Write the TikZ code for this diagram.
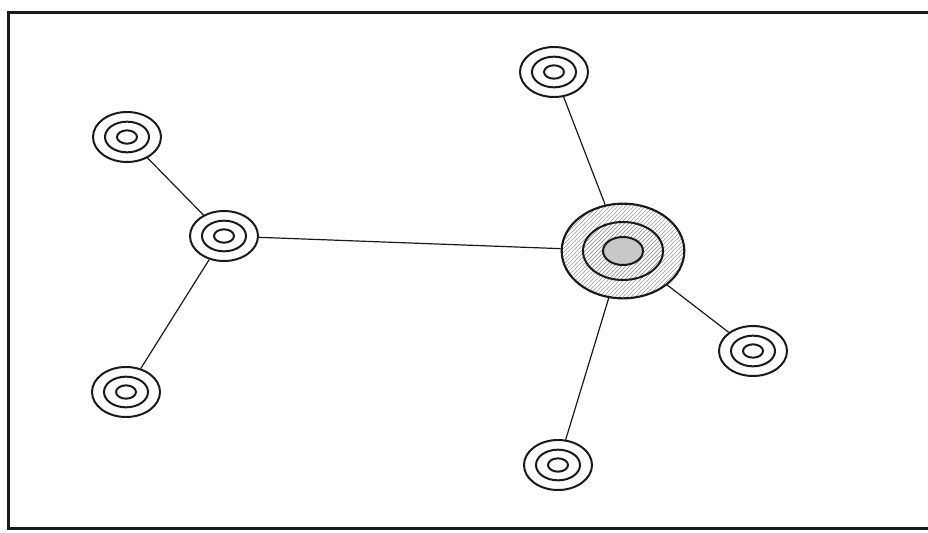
\documentclass[tikz,border=0pt]{standalone}
\usepackage{tikz}
\usetikzlibrary{shapes.geometric,patterns}
\definecolor{inkline}{HTML}{1A1A1A}
\definecolor{hatchgrey}{HTML}{999999}
\definecolor{coregrey}{HTML}{C8C8C8}

\tikzset{
  ringnode/.style={ellipse,draw=inkline,line width=1.5pt,fill=white,
    minimum width=51pt,minimum height=37.5pt,inner sep=0pt},
  hubnode/.style={ellipse,draw=inkline,line width=1.6pt,inner sep=0pt,
    minimum width=92pt,minimum height=71pt,
    pattern=north east lines,pattern color=hatchgrey},
  ringline/.style={inkline,line width=1.5pt},
  link/.style={inkline,line width=0.9pt}
}

\begin{document}
\begin{tikzpicture}[x=0.75pt,y=-0.75pt]
    \useasboundingbox (0,0) rectangle (928,532);
    % page frame, open on the right
    \draw[inkline,line width=2.25pt] (932,12) -- (8,12) -- (8,528) -- (932,528);

    % central hub
    \node[hubnode] (hub) at (623,251) {};
    \draw[ringline,pattern=north east lines,pattern color=hatchgrey]
      (hub.center) ellipse [x radius=30pt,y radius=21.75pt];
    \draw[ringline,fill=coregrey] (hub.center) ellipse [x radius=15pt,y radius=10.5pt];

    % outer stations
    \node[ringnode] (top)      at (554,72)  {};
    \node[ringnode] (upleft)   at (127,137) {};
    \node[ringnode] (left)     at (224,236) {};
    \node[ringnode] (lowleft)  at (126,392) {};
    \node[ringnode] (bottom)   at (558,465) {};
    \node[ringnode] (right)    at (753,351) {};
    \foreach \n in {top,upleft,left,lowleft,bottom,right} {
      \draw[ringline] (\n.center) ellipse [x radius=16.5pt,y radius=11.5pt];
      \draw[ringline] (\n.center) ellipse [x radius=7.5pt,y radius=5pt];
    }

    % links
    \draw[link] (hub) -- (top);
    \draw[link] (hub) -- (left);
    \draw[link] (hub) -- (bottom);
    \draw[link] (hub) -- (right);
    \draw[link] (left) -- (upleft);
    \draw[link] (left) -- (lowleft);
  \end{tikzpicture}
\end{document}
